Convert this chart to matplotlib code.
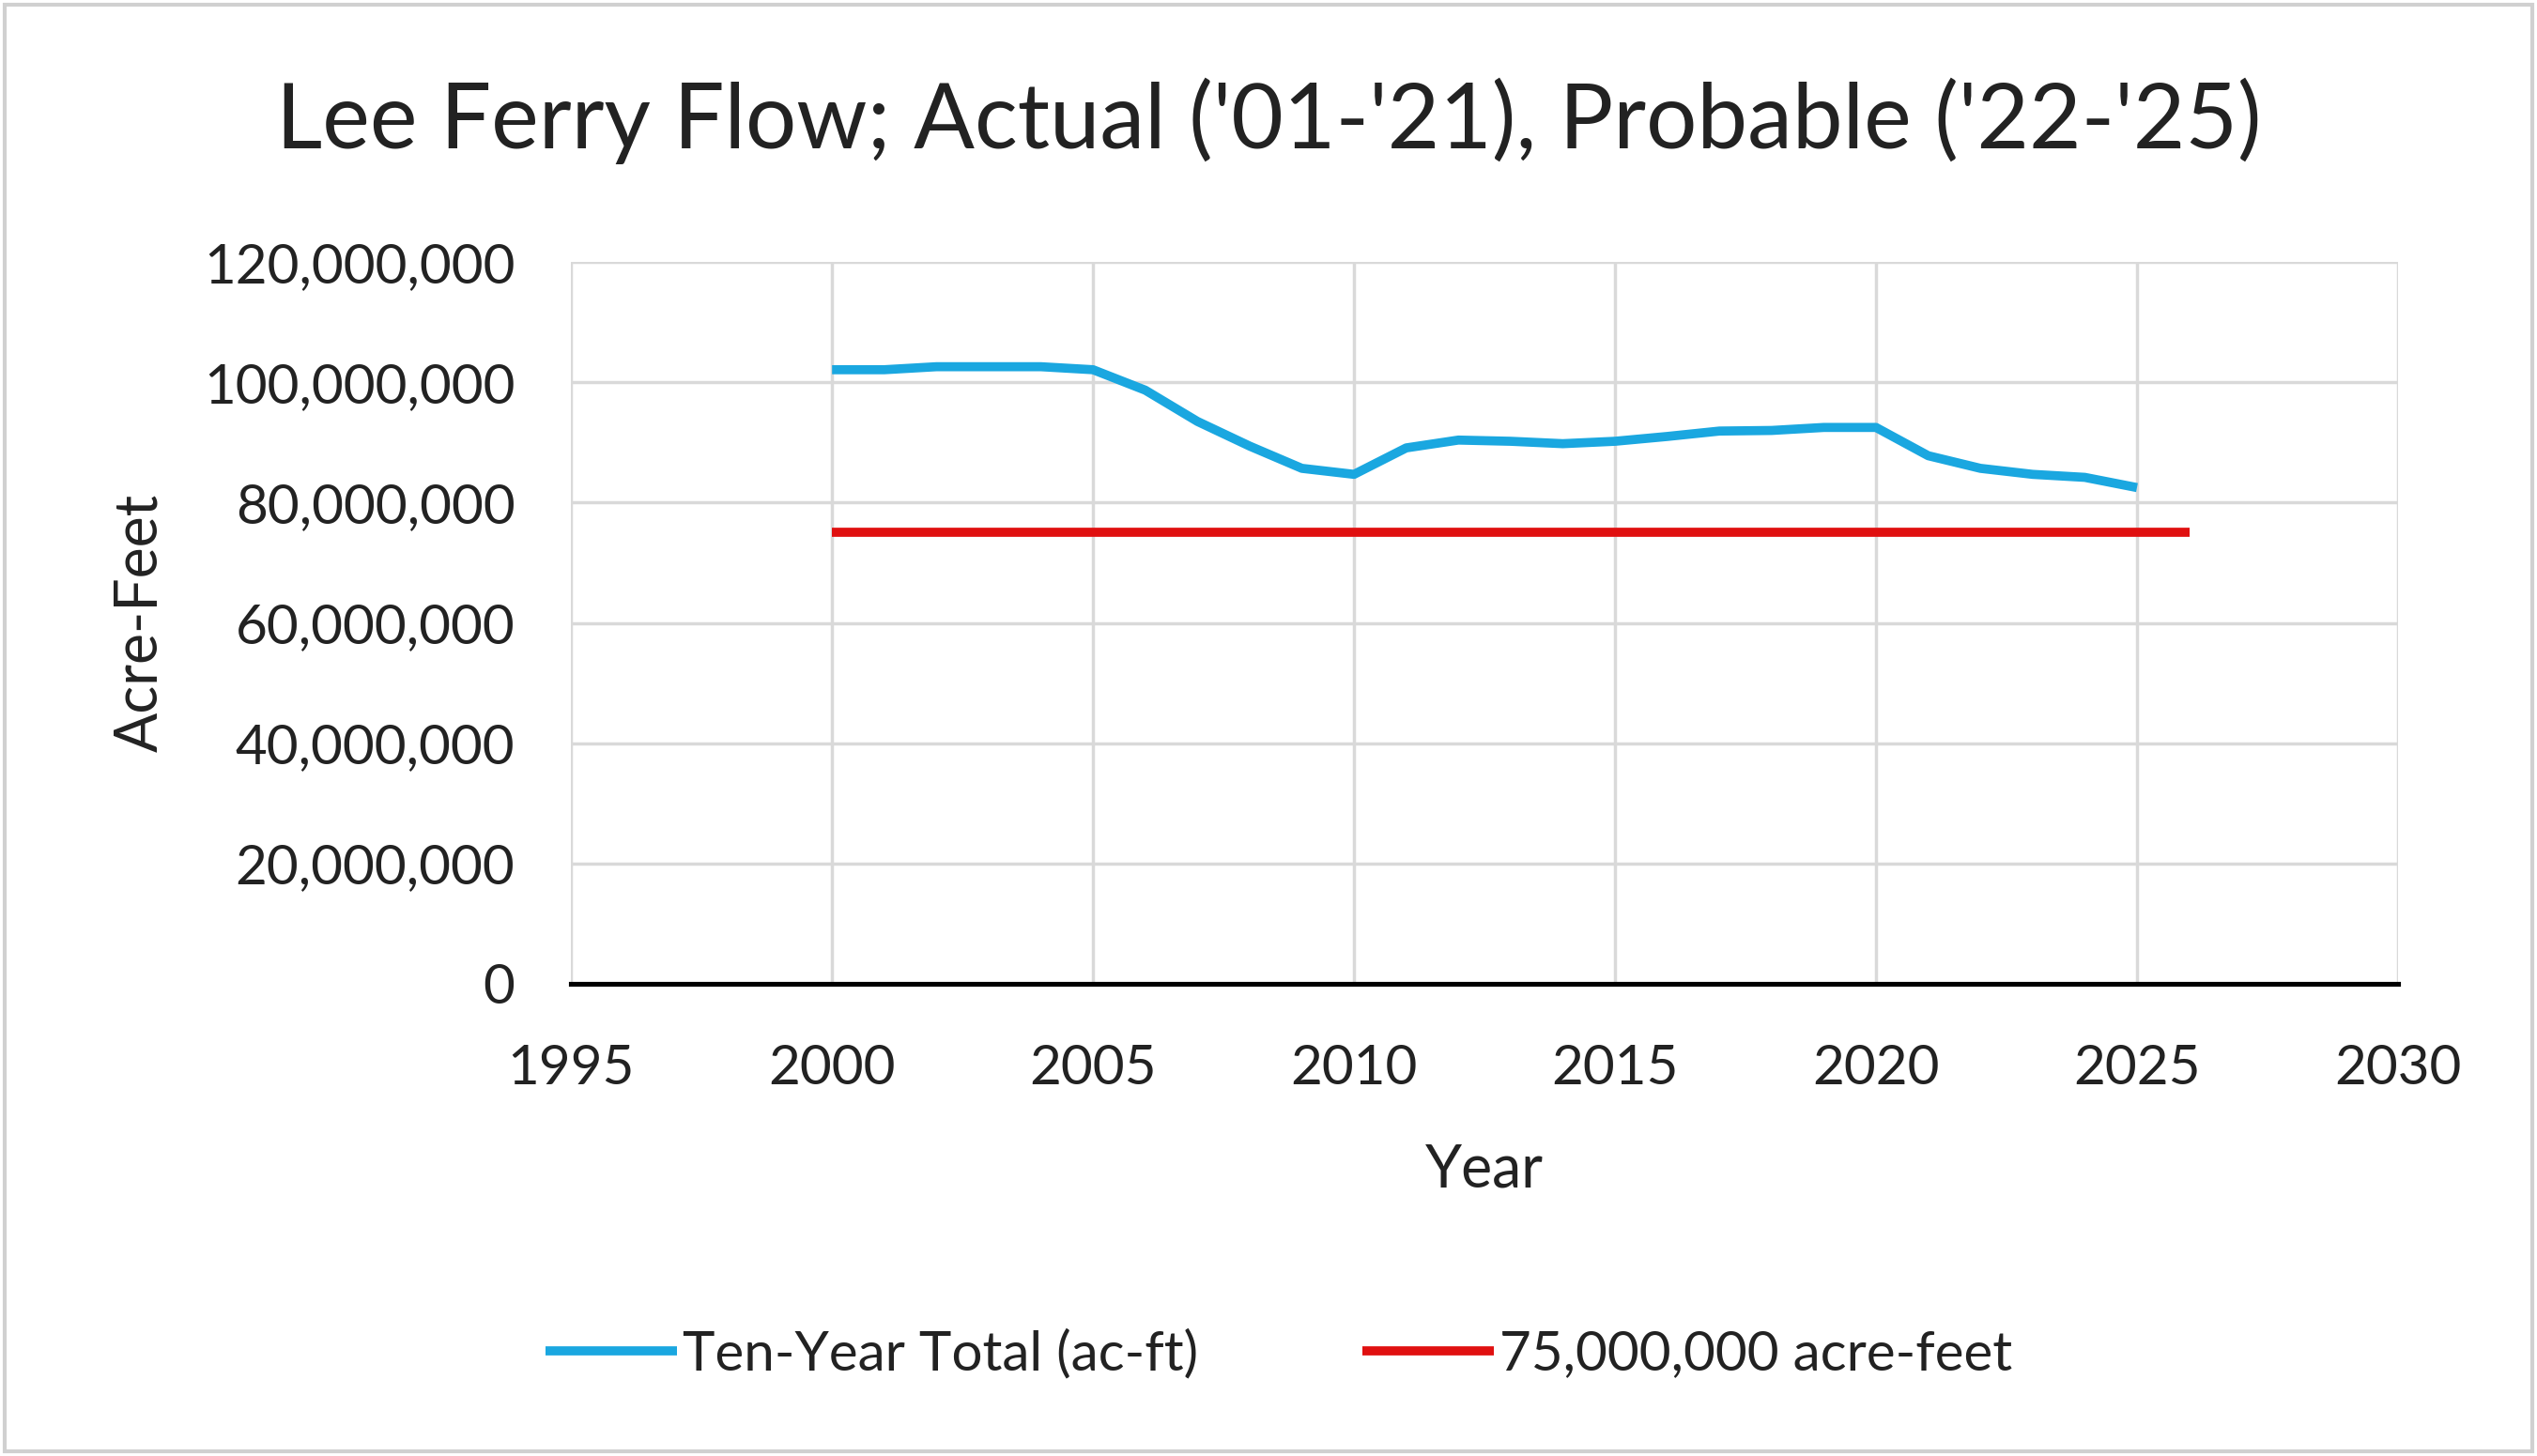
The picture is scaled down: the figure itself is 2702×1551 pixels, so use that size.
import matplotlib.pyplot as plt
from matplotlib.patches import Rectangle
from matplotlib.ticker import FuncFormatter, MultipleLocator

plt.rcParams["font.family"] = ["Lato", "DejaVu Sans"]

years = [2000, 2001, 2002, 2003, 2004, 2005, 2006, 2007, 2008, 2009, 2010, 2011, 2012,
         2013, 2014, 2015, 2016, 2017, 2018, 2019, 2020, 2021, 2022, 2023, 2024, 2025]
ten_year_total = [102.1, 102.1, 102.6, 102.6, 102.6, 102.1, 98.7, 93.5, 89.4, 85.7, 84.7,
                  89.1, 90.4, 90.2, 89.8, 90.2, 91.0, 91.9, 92.0, 92.5, 92.5, 87.8, 85.7,
                  84.7, 84.2, 82.5]
ten_year_total = [v * 1e6 for v in ten_year_total]

threshold_years = [2000, 2026]
threshold_values = [75_000_000, 75_000_000]

fig = plt.figure(figsize=(27.02, 15.51), dpi=100)
ax = fig.add_axes([0.2251, 0.3244, 0.7201, 0.4956])

ax.plot(years, ten_year_total, color="#1AA7E0", linewidth=7,
        solid_capstyle="butt", label="Ten-Year Total (ac-ft)", zorder=3)
ax.plot(threshold_years, threshold_values, color="#E01010", linewidth=7,
        solid_capstyle="butt", label="75,000,000 acre-feet", zorder=3)

ax.set_xlim(1995, 2030)
ax.set_ylim(0, 120_000_000)
ax.xaxis.set_major_locator(MultipleLocator(5))
ax.yaxis.set_major_locator(MultipleLocator(20_000_000))
ax.yaxis.set_major_formatter(FuncFormatter(lambda v, p: f"{int(v):,}"))

ax.grid(True, color="#D9D9D9", linewidth=2.5, zorder=0)
ax.set_axisbelow(True)
for side in ["left", "top", "right"]:
    ax.spines[side].set_visible(False)
ax.spines["bottom"].set_color("black")
ax.spines["bottom"].set_linewidth(3.7)
ax.spines["bottom"].set_zorder(4)
ax.tick_params(length=0, labelsize=42, colors="#222222")
ax.tick_params(axis="x", pad=46)
ax.tick_params(axis="y", pad=43)

ax.set_xlabel("Year", fontsize=45, color="#222222", labelpad=38)
ax.set_ylabel("Acre-Feet", fontsize=45, color="#222222", labelpad=28)

fig.text(0.5, 0.917, "Lee Ferry Flow; Actual ('01-'21), Probable ('22-'25)",
         ha="center", va="center", fontsize=69, color="#222222")

fig.legend(loc="center", bbox_to_anchor=(0.504, 0.07), ncol=2, frameon=False,
           fontsize=42, handlelength=2.4, handletextpad=0.1, columnspacing=3.0,
           labelcolor="#222222")

fig.patches.append(Rectangle((0.002, 0.003), 0.996, 0.994, transform=fig.transFigure,
                             fill=False, edgecolor="#D0D0D0", linewidth=3))

fig.savefig("out.png", dpi=100, facecolor="white")
